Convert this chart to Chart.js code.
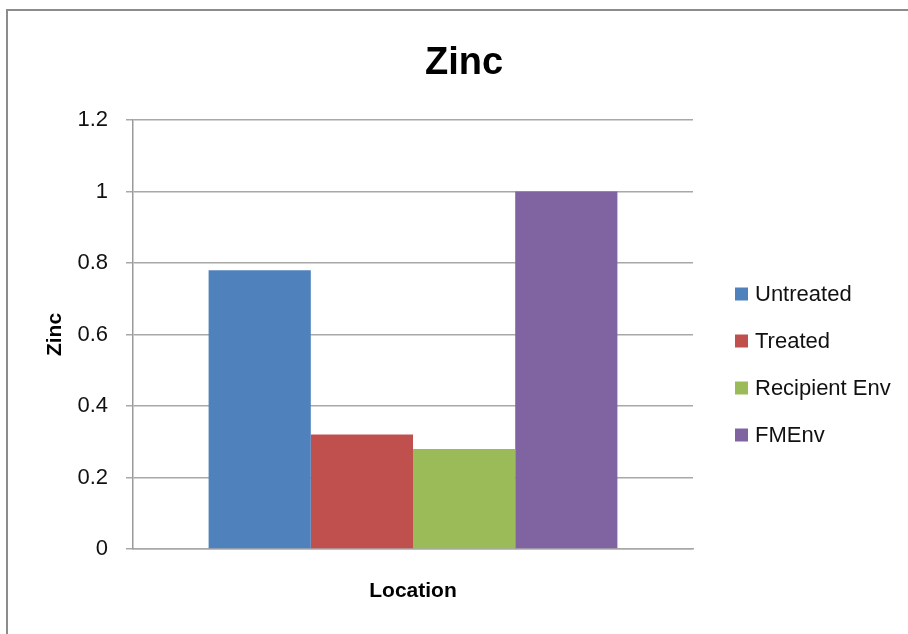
<!DOCTYPE html>
<html>
<head>
<meta charset="utf-8">
<title>Zinc</title>
<script src="https://cdn.jsdelivr.net/npm/chart.js@4/dist/chart.umd.min.js"></script>
<style>
  html, body { margin: 0; padding: 0; background: #fff; overflow: hidden; }
  #wrap { position: relative; width: 908px; height: 634px; }
  #frame {
    position: absolute; left: 6px; top: 9px; width: 980px; height: 700px;
    border-top: 2px solid #8c8c8c; border-left: 2px solid #8c8c8c;
    pointer-events: none;
  }
  canvas { display: block; }
</style>
</head>
<body>
<div id="wrap">
  <canvas id="chart" width="908" height="634"></canvas>
  <div id="frame"></div>
</div>
<script>
// Zinc levels by sampling location
const categories = [''];
const seriesNames = ['Untreated', 'Treated', 'Recipient Env', 'FMEnv'];
const zincValues = [0.78, 0.32, 0.28, 1.0];
const seriesColors = ['#4F81BD', '#C0504D', '#9BBB59', '#8064A2'];
const yTickValues = [0, 0.2, 0.4, 0.6, 0.8, 1, 1.2];

const FONT = '"Liberation Sans", Arial, sans-serif';
const GRID = '#a8a8a8';

// Legend drawn at the right of the plot, one row per series
const sideLegend = {
  id: 'sideLegend',
  afterDraw(chart) {
    const ctx = chart.ctx;
    const area = chart.chartArea;
    const x0 = area.right + 42;
    const y0 = 294;
    const rowGap = 47;
    ctx.save();
    ctx.font = '22px ' + FONT;
    ctx.textBaseline = 'middle';
    ctx.textAlign = 'left';
    chart.data.datasets.forEach((ds, i) => {
      const y = y0 + i * rowGap;
      ctx.fillStyle = ds.backgroundColor;
      ctx.fillRect(x0, y - 6.5, 13, 13);
      ctx.fillStyle = '#111';
      ctx.fillText(ds.label, x0 + 20, y + 1);
    });
    ctx.restore();
  }
};

const datasets = seriesNames.map((name, i) => ({
  label: name,
  data: [zincValues[i]],
  backgroundColor: seriesColors[i],
  borderWidth: 0,
  categoryPercentage: 0.73,
  barPercentage: 1.0
}));

new Chart(document.getElementById('chart'), {
  type: 'bar',
  data: { labels: categories, datasets },
  plugins: [sideLegend],
  options: {
    responsive: false,
    animation: false,
    devicePixelRatio: 1,
    layout: { padding: { top: 0, left: 20, right: 0, bottom: 0 } },
    plugins: {
      legend: { display: false },
      tooltip: { enabled: false },
      title: {
        display: true,
        text: 'Zinc',
        color: '#000',
        font: { family: FONT, size: 38, weight: 'bold', lineHeight: 1.2 },
        padding: { top: 41, bottom: 33.4 }
      }
    },
    scales: {
      x: {
        grid: { display: false },
        border: { display: true, color: GRID, width: 1.5 },
        ticks: { display: false },
        title: {
          display: true,
          text: 'Location',
          color: '#000',
          font: { family: FONT, size: 21, weight: 'bold', lineHeight: 1.2 },
          padding: { top: 0, bottom: 30 }
        },
        afterFit(s) { s.height = 85; }
      },
      y: {
        min: 0,
        max: 1.2,
        afterBuildTicks(s) { s.ticks = yTickValues.map(v => ({ value: v })); },
        ticks: {
          color: '#111',
          font: { family: FONT, size: 22 },
          padding: 18,
          callback: v => String(+v.toFixed(1))
        },
        grid: { color: GRID, lineWidth: 1.5, tickLength: 7, drawTicks: true },
        border: { display: true, color: '#9a9a9a', width: 1.5 },
        title: {
          display: true,
          text: 'Zinc',
          color: '#000',
          font: { family: FONT, size: 21, weight: 'bold', lineHeight: 1.2 },
          padding: { top: 23, bottom: 0 }
        },
        afterFit(s) { s.width = 113; }
      },
      legendSpace: {
        type: 'linear',
        position: 'right',
        display: true,
        grid: { display: false, drawTicks: false },
        border: { display: false },
        ticks: { display: false },
        afterFit(s) { s.width = 215; }
      }
    }
  }
});
</script>
</body>
</html>
